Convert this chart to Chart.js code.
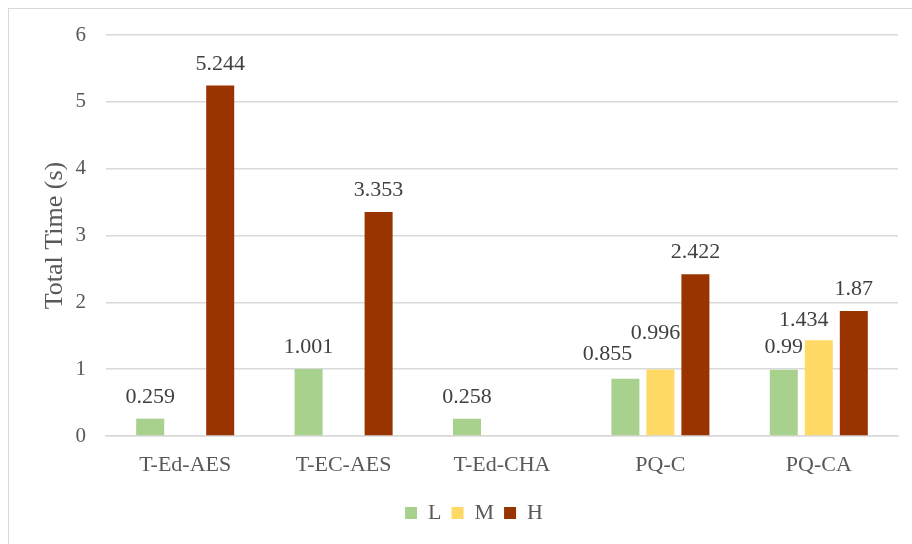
<!DOCTYPE html>
<html lang="en">
<head>
    <meta charset="UTF-8">
    <title>Total Time</title>
    <script src="https://cdn.jsdelivr.net/npm/chart.js"></script>
    <style>
        body { margin: 0; overflow: hidden; background: #fff; }
        #frame { position: absolute; left: 8px; top: 8px; width: 920px; height: 560px; border: 1px solid #d9d9d9; }
        #wrap { position: absolute; left: 0; top: 0; width: 912px; height: 544px; }
    </style>
</head>
<body>
    <div id="frame"></div>
    <div id="wrap"><canvas id="myChart"></canvas></div>

    <script>
        // datos
        const categories = ['T-Ed-AES', 'T-EC-AES', 'T-Ed-CHA', 'PQ-C', 'PQ-CA'];
        const lowValues = [0.259, 1.001, 0.258, 0.855, 0.99];
        const midValues = [null, null, null, 0.996, 1.434];
        const highValues = [5.244, 3.353, null, 2.422, 1.87];
        const yTicks = [0, 1, 2, 3, 4, 5, 6];

        const serif = "'Liberation Serif', 'Times New Roman', serif";

        // pequeños ajustes de etiquetas (dataset-index: [dx, dy])
        const labelNudge = {
            '0-3': [-18, -3],
            '1-3': [-5, -14],
            '0-4': [0, -1],
            '1-4': [-15, 2]
        };

        const valueLabels = {
            id: 'valueLabels',
            afterDatasetsDraw(chart) {
                const ctx = chart.ctx;
                ctx.save();
                ctx.font = '22px ' + serif;
                ctx.fillStyle = '#404040';
                ctx.textAlign = 'center';
                ctx.textBaseline = 'alphabetic';
                chart.data.datasets.forEach(function(ds, di) {
                    const meta = chart.getDatasetMeta(di);
                    meta.data.forEach(function(bar, i) {
                        const v = ds.data[i];
                        if (v === null || v === undefined) return;
                        const n = labelNudge[di + '-' + i] || [0, 0];
                        ctx.fillText(String(v), bar.x + n[0], bar.y - 16 + n[1]);
                    });
                });
                ctx.restore();
            }
        };

        var ctx = document.getElementById('myChart').getContext('2d');
        var myChart = new Chart(ctx, {
            type: 'bar',
            data: {
                labels: categories,
                datasets: [
                    { label: 'L', data: lowValues, backgroundColor: '#A9D18E' },
                    { label: 'M', data: midValues, backgroundColor: '#FFD966' },
                    { label: 'H', data: highValues, backgroundColor: '#993300' }
                ]
            },
            options: {
                responsive: true,
                maintainAspectRatio: false,
                animation: false,
                datasets: { bar: { categoryPercentage: 0.663, barPercentage: 0.8 } },
                layout: { padding: { left: 50, right: 14, top: 35, bottom: 10 } },
                plugins: {
                    tooltip: { enabled: false },
                    legend: {
                        position: 'bottom',
                        labels: {
                            boxWidth: 12,
                            boxHeight: 12,
                            padding: 10,
                            color: '#595959',
                            font: { family: serif, size: 22 }
                        }
                    }
                },
                scales: {
                    x: {
                        grid: { display: false },
                        border: { color: '#d9d9d9', width: 1.5 },
                        ticks: { color: '#595959', padding: 8, font: { family: serif, size: 22 } },
                        afterFit: function(scale) { scale.height = 56; }
                    },
                    y: {
                        min: 0,
                        max: 6,
                        afterBuildTicks: function(scale) {
                            scale.ticks = yTicks.map(function(v) { return { value: v }; });
                        },
                        grid: { color: '#d9d9d9', lineWidth: 1.5, drawTicks: false },
                        border: { display: false },
                        ticks: { color: '#595959', padding: 20, font: { family: serif, size: 21 } },
                        title: {
                            display: true,
                            text: 'Total Time (s)',
                            color: '#595959',
                            font: { family: serif, size: 26, weight: 'normal' },
                            padding: { top: -10, bottom: 0 }
                        },
                        afterFit: function(scale) { scale.width = 56; }
                    }
                }
            },
            plugins: [valueLabels]
        });
    </script>
</body>
</html>
